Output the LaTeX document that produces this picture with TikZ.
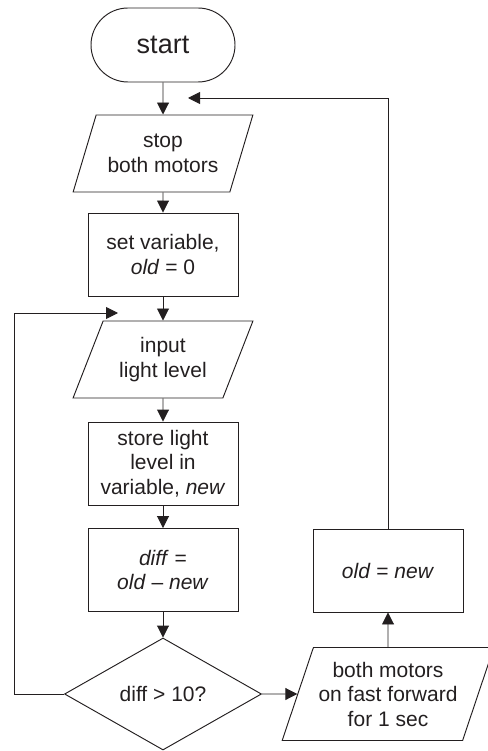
\documentclass[tikz,border=0pt]{standalone}
\usepackage{fontspec}
\setmainfont{Liberation Sans}
\usetikzlibrary{arrows.meta,shapes.geometric,shapes.misc}
\definecolor{ink}{HTML}{231F20}
\tikzset{
  base/.style={draw=ink, text=ink, line width=0.95pt, align=center, inner sep=0pt,
    font=\fontsize{21}{24.5}\selectfont},
  term/.style={base, rounded rectangle, minimum width=144pt, minimum height=74pt,
    font=\fontsize{27}{30}\selectfont},
  box/.style={base, rectangle, minimum width=150pt, minimum height=83pt},
  io/.style={base, trapezium, trapezium left angle=63.5, trapezium right angle=116.5,
    trapezium stretches=true, minimum width=180pt, minimum height=77pt},
  decide/.style={base, diamond, aspect=1.76, minimum width=197pt, minimum height=112pt},
  arr/.style={draw=ink, line width=0.95pt, -{Triangle[length=12pt,width=12pt]}}
}

\begin{document}
\begin{tikzpicture}[x=1pt, y=-1pt]
  \useasboundingbox (0,0) rectangle (487,751);
  % main column
  \node[term] (start) at (163,45) {start};
  \node[io] (stop) at (163,153.5) {stop\\both motors};
  \node[box] (setvar) at (163,254.5) {set variable,\\\textit{old} = 0};
  \node[io] (input) at (163,359.5) {input\\light level};
  \node[box] (store) at (163,463.5) {store light\\level in\\variable, \textit{new}};
  \node[box] (diff) at (163,570) {\textit{diff} =\\\textit{old} – \textit{new}};
  \node[decide] (check) at (163,694) {diff > 10?};
  % right column
  \node[io, minimum width=212pt, minimum height=93pt, trapezium left angle=65.7,
    trapezium right angle=114.3] (motors) at (388,694) {both motors\\on fast forward\\for 1 sec};
  \node[box] (update) at (388,570.5) {\textit{old} = \textit{new}};
  % loose ends of the two loops
  \coordinate (backin) at (188,98);
  \coordinate (loopin) at (118,313);

  \draw[arr] (start) -- (stop);
  \draw[arr] (stop) -- (setvar);
  \draw[arr] (setvar) -- (input);
  \draw[arr] (input) -- (store);
  \draw[arr] (store) -- (diff);
  \draw[arr] (diff) -- (check);
  \draw[arr] (check) -- (motors);
  \draw[arr] (motors) -- (update);
  \draw[arr] (update.north) |- (backin);
  \draw[arr] (check.west) -- ++(-50,0) |- (loopin);
\end{tikzpicture}
\end{document}
